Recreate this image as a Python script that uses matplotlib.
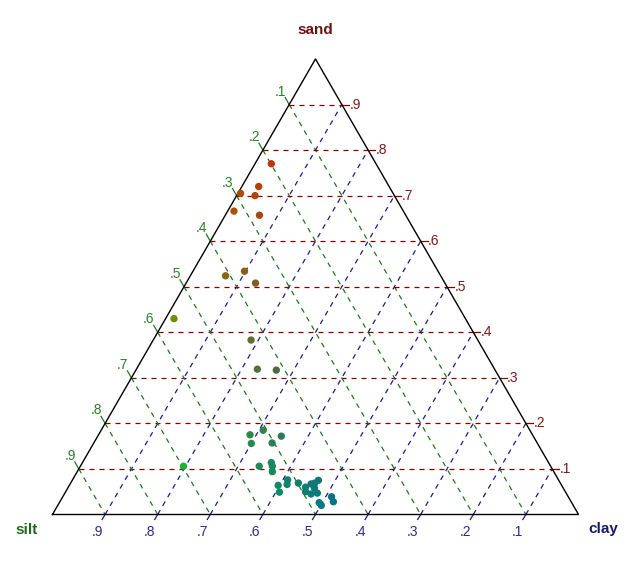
import numpy as np
import matplotlib.pyplot as plt

# soil samples, fractions of sand / silt / clay
sand = [0.77, 0.72, 0.705, 0.70, 0.666, 0.657, 0.534, 0.524, 0.508, 0.43,
        0.383, 0.319, 0.317, 0.175, 0.185, 0.172, 0.156, 0.157, 0.106, 0.106,
        0.114, 0.106, 0.094, 0.076, 0.066, 0.064, 0.049, 0.069, 0.060, 0.050,
        0.067, 0.069, 0.075, 0.045, 0.047, 0.058, 0.026, 0.020, 0.039, 0.028]
clay = [0.031, 0.032, 0.005, 0.035, 0.012, 0.065, 0.098, 0.067, 0.132, 0.016,
        0.186, 0.230, 0.267, 0.288, 0.308, 0.349, 0.300, 0.339, 0.196, 0.340,
        0.359, 0.365, 0.371, 0.409, 0.413, 0.397, 0.407, 0.433, 0.451, 0.456,
        0.458, 0.464, 0.468, 0.469, 0.480, 0.469, 0.494, 0.501, 0.511, 0.520]

ticks = [0.1, 0.2, 0.3, 0.4, 0.5, 0.6, 0.7, 0.8, 0.9]
tick_labels = ['.1', '.2', '.3', '.4', '.5', '.6', '.7', '.8', '.9']
axis_names = ['sand', 'silt', 'clay']

h = np.sqrt(3) / 2
px = 1 / 526.0  # one pixel in data units


def xy(s, c):
    # ternary (sand, clay) -> cartesian, silt vertex at origin
    s = np.asarray(s)
    c = np.asarray(c)
    return c + s / 2, s * h


fig = plt.figure(figsize=(6.3, 5.61), dpi=100)
ax = fig.add_axes([0, 0, 1, 1])
ax.set_xlim(-52.5 * px, 577.5 * px)
ax.set_ylim(-46.5 * px, 514.5 * px)
ax.axis('off')

red = '#800000'
green = '#1f7a1f'
blue = '#1c1c8c'
dash = (0, (4, 4))
font = 'Liberation Sans'

for t, lab in zip(ticks, tick_labels):
    # sand lines (horizontal)
    x0, y0 = xy(t, 0)
    x1, y1 = xy(t, 1 - t)
    ax.plot([x0, x1], [y0, y1], color=red, lw=0.9, ls=dash)
    ax.plot([x1, x1 + 7 * px], [y1, y1], color=red, lw=0.9)
    ax.text(x1 + 7.5 * px, y1, lab, color='#7a1a1a', fontsize=10,
            family=font, ha='left', va='center')

    # silt lines, silt = t
    x0, y0 = xy(1 - t, 0)
    x1, y1 = xy(0, 1 - t)
    ax.plot([x0, x1], [y0, y1], color=green, lw=0.9, ls=dash)
    ax.plot([x0, x0 - 4 * px], [y0, y0 + 7 * px], color=green, lw=0.9)
    ax.text(x0 - 3 * px, y0 + 6 * px, lab, color='#2b7f2b', fontsize=10,
            family=font, ha='right', va='bottom')

    # clay lines, clay = t
    x0, y0 = xy(0, t)
    x1, y1 = xy(1 - t, t)
    ax.plot([x0, x1], [y0, y1], color=blue, lw=0.9, ls=dash)
    ax.plot([x0, x0 - 3 * px], [y0, y0 - 5 * px], color=blue, lw=0.9)
    ax.text(x0 - 8 * px, y0 - 10 * px, tick_labels[8 - ticks.index(t)],
            color='#2a2a8a', fontsize=10, family=font, ha='center', va='top')

# triangle outline
ax.plot([0, 1, 0.5, 0], [0, 0, h, 0], color='black', lw=1)

# points coloured by composition (r=sand, g=silt, b=clay)
s_arr = np.array(sand)
c_arr = np.array(clay)
silt = np.clip(1 - s_arr - c_arr, 0, 1)
cols = np.column_stack([s_arr, silt, c_arr])
px_, py_ = xy(s_arr, c_arr)
ax.scatter(px_, py_, s=28, c=cols, edgecolors='none', zorder=3)

ax.text(0.5, h + 29 * px, axis_names[0], color='#6e1111', fontsize=11,
        fontweight='bold', family=font, ha='center', va='center')
ax.text(-26 * px, -16 * px, axis_names[1], color='#1e6b1e', fontsize=11,
        fontweight='bold', family=font, ha='center', va='center')
ax.text(1 + 25 * px, -15 * px, axis_names[2], color='#1a1a6b', fontsize=11,
        fontweight='bold', family=font, ha='center', va='center')

fig.savefig('out.png', dpi=100)
